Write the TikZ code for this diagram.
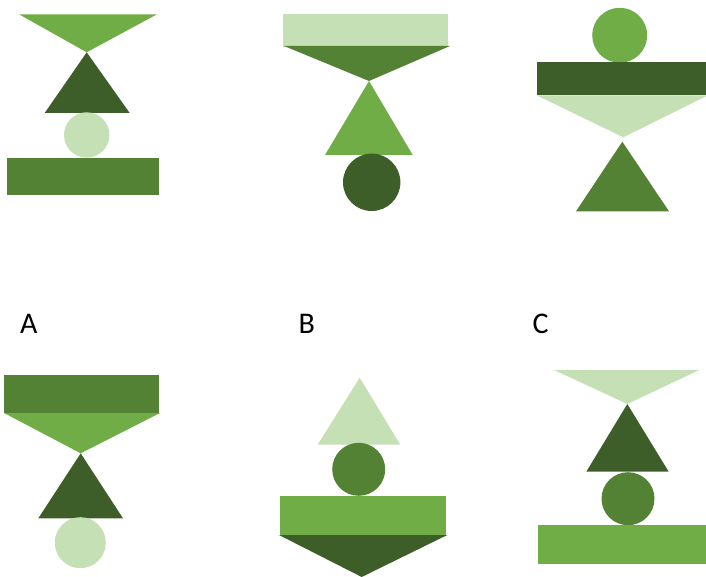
\documentclass[tikz,border=0pt]{standalone}
\usepackage{fontspec}
\setmainfont{Carlito}
\definecolor{gA}{HTML}{70AD47}
\definecolor{gB}{HTML}{548235}
\definecolor{gC}{HTML}{3D5E28}
\definecolor{gL}{HTML}{C5E0B4}
\begin{document}
\begin{tikzpicture}[x=1pt,y=-1pt,
  lbl/.style={anchor=base west,inner sep=0pt,font=\fontsize{30}{36}\selectfont}]
\useasboundingbox (0,0) rectangle (706,577);
% Panel 1
\fill[gA] (19,14.3) -- (157,14.3) -- (86.7,52.3) -- cycle;
\fill[gC] (86.7,52.3) -- (129.7,113) -- (44.7,113) -- cycle;
\fill[gL] (86.7,135) circle (22.7);
\fill[gB] (7.3,158) rectangle (159.3,195.3);
% Panel 2
\fill[gL] (282.7,14.3) rectangle (447.7,47);
\fill[gB] (284,46) -- (450,46) -- (369,81) -- cycle;
\fill[gA] (369,81) -- (412.7,155) -- (325,155) -- cycle;
\fill[gC] (371.7,182.3) circle (28.7);
% Panel 3
\fill[gA] (619.7,35.3) circle (27.5);
\fill[gC] (536.7,62.3) rectangle (706,95.3);
\fill[gL] (536.7,95.3) -- (708,95.3) -- (623.3,137.3) -- cycle;
\fill[gB] (622.3,141.7) -- (669,211.3) -- (576,211.3) -- cycle;
% Labels
\node[lbl] (la) at (20,333) {A};
\node[lbl] (lb) at (298.5,333) {B};
\node[lbl] (lc) at (532.5,333) {C};
% Panel 4
\fill[gB] (4,375.3) rectangle (159.3,413.3);
\fill[gA] (4,413) -- (160,413) -- (80.7,453.3) -- cycle;
\fill[gC] (80.7,453.3) -- (123,518.3) -- (38.3,518.3) -- cycle;
\fill[gL] (80.3,542.7) circle (25.5);
% Panel 5
\fill[gL] (359.7,377.7) -- (400.3,444.7) -- (317.7,444.7) -- cycle;
\fill[gB] (358.7,469.3) circle (26.5);
\fill[gA] (279.7,495.7) rectangle (445.7,535);
\fill[gC] (279,535) -- (447.3,535) -- (361.7,577) -- cycle;
% Panel 6
\fill[gL] (554,370) -- (699.3,370) -- (627.3,404) -- cycle;
\fill[gC] (627.3,404) -- (668.7,471.7) -- (586.3,471.7) -- cycle;
\fill[gB] (628,498.7) circle (26.5);
\fill[gA] (538,525.3) rectangle (706,564.3);
\end{tikzpicture}
\end{document}
